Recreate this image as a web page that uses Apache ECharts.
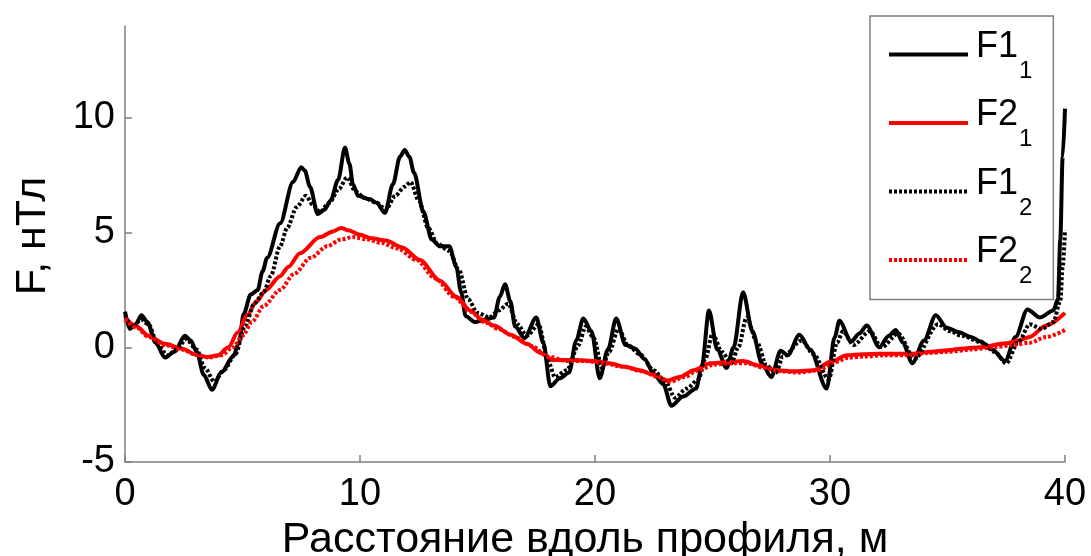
<!DOCTYPE html>
<html>
<head>
<meta charset="utf-8">
<script src="https://cdn.jsdelivr.net/npm/echarts@6/dist/echarts.min.js"></script>
<style>
html,body{margin:0;padding:0;background:#fff;}
#c{width:1091px;height:556px;}
</style>
</head>
<body>
<div id="c"></div>
<script>
// ---- data ----
const xTicks = [0, 10, 20, 30, 40];
const yTicks = [-5, 0, 5, 10];
const seriesNames = ['F1_1', 'F2_1', 'F1_2', 'F2_2'];
const legendMain = {F1_1: 'F1', F2_1: 'F2', F1_2: 'F1', F2_2: 'F2'};
const legendSub = {F1_1: '1', F2_1: '1', F1_2: '2', F2_2: '2'};

const F1_1 = [
[0,1.55],[0.2,0.8],[0.45,1.0],[0.7,1.4],[0.95,1.1],[1.3,0.2],[1.7,-0.45],[2.1,-0.2],[2.55,0.5],[2.8,0.3],
[3.05,-0.2],[3.35,-1.2],[3.7,-1.85],[4.1,-1.1],[4.6,-0.4],[4.85,0.2],[5.05,1.45],[5.35,2.3],[5.65,2.5],[5.85,3.3],
[6.05,3.9],[6.6,5.4],[7.15,7.2],[7.5,7.85],[7.65,7.7],[7.87,7.0],[8.2,5.8],[8.5,6.0],[8.75,6.4],[9.07,7.3],
[9.36,8.7],[9.55,8.0],[9.7,7.1],[9.92,6.6],[10.43,6.45],[10.7,6.3],[11.06,5.85],[11.4,7.1],[11.7,8.3],[11.9,8.6],
[12.1,8.3],[12.3,7.6],[12.7,5.9],[13.05,4.7],[13.4,4.4],[13.8,4.4],[14.1,3.5],[14.3,2.4],[14.5,1.35],[14.9,1.1],
[15.3,1.2],[15.7,1.3],[15.95,2.2],[16.17,2.75],[16.4,2.0],[16.6,0.9],[17.0,0.4],[17.5,1.3],[17.8,0.2],[18.1,-1.7],
[18.5,-1.35],[18.9,-1.1],[19.2,0.3],[19.5,1.25],[19.85,0.7],[20.2,-1.35],[20.55,-0.1],[20.9,1.25],[21.3,0.1],[21.7,-0.05],
[22.1,-0.5],[22.5,-1.15],[22.9,-1.6],[23.25,-2.55],[23.75,-2.15],[24.3,-1.8],[24.55,-0.8],[24.85,1.6],[25.2,-0.1],[25.6,-0.9],
[25.9,0.0],[26.3,2.4],[26.7,0.7],[27.1,-0.7],[27.5,-1.3],[27.9,-0.15],[28.2,-0.35],[28.7,0.55],[29.15,-0.1],[29.86,-1.8],
[30.2,0.45],[30.4,1.15],[30.9,0.25],[31.25,0.6],[31.56,0.95],[32.1,0.0],[32.5,0.5],[32.8,0.75],[33.1,0.2],[33.5,-0.7],
[34.0,0.3],[34.5,1.4],[34.97,0.85],[35.5,0.65],[36.0,0.45],[36.4,0.25],[36.9,-0.1],[37.45,-0.6],[37.9,0.45],[38.4,1.65],
[38.94,1.3],[39.5,1.6],[39.7,2.1],[39.8,4.7],[39.9,8.3],[40,10.4]
];

const F2_1 = [
[0,1.3],[0.5,0.9],[1.0,0.5],[1.7,0.15],[2.4,-0.05],[3.1,-0.35],[3.5,-0.42],[3.95,-0.35],[4.4,0.0],[4.8,0.65],
[5.2,1.4],[5.6,2.0],[6.0,2.5],[6.6,3.1],[6.95,3.5],[7.45,4.1],[8.3,4.8],[8.85,5.05],[9.2,5.2],[9.5,5.1],
[10.0,4.9],[10.5,4.75],[11.1,4.65],[11.8,4.35],[12.55,3.8],[13.4,2.9],[14.1,2.2],[14.7,1.6],[15.2,1.2],[15.7,0.95],
[16.4,0.55],[17.1,0.15],[17.7,-0.25],[18.2,-0.55],[19.2,-0.55],[20.0,-0.6],[20.6,-0.7],[21.3,-0.85],[21.9,-1.0],[22.5,-1.2],
[23.05,-1.45],[23.6,-1.3],[24.2,-1.0],[24.9,-0.7],[25.6,-0.65],[26.3,-0.6],[27.0,-0.8],[27.7,-1.0],[28.5,-1.05],[29.3,-1.0],
[30.1,-0.6],[30.7,-0.35],[31.4,-0.3],[32.1,-0.28],[33.5,-0.28],[34.3,-0.2],[35.0,-0.13],[35.7,-0.05],[36.4,0.0],[37.5,0.17],
[38.0,0.3],[38.5,0.45],[39.2,0.95],[40,1.5]
];

const F1_2 = [
[0,1.4],[0.3,0.9],[0.7,1.2],[1.0,1.0],[1.4,0.1],[1.8,-0.35],[2.2,-0.1],[2.6,0.35],[3.05,-0.1],[3.4,-0.9],
[3.8,-1.5],[4.2,-1.0],[4.7,-0.3],[5.1,0.9],[5.5,1.9],[5.9,2.4],[6.2,3.1],[6.6,4.4],[6.9,5.2],[7.3,6.1],
[7.7,6.6],[8.0,6.2],[8.3,5.9],[8.7,6.3],[9.1,6.9],[9.45,7.4],[9.8,6.8],[10.2,6.5],[10.7,6.3],[11.1,6.0],
[11.5,6.6],[11.9,7.0],[12.15,7.2],[12.5,6.4],[12.9,5.2],[13.3,4.5],[13.8,4.2],[14.2,3.4],[14.6,2.1],[15.0,1.5],
[15.5,1.3],[15.9,1.6],[16.3,1.9],[16.7,1.0],[17.1,0.5],[17.6,1.0],[18.0,-0.6],[18.3,-1.3],[18.8,-1.0],[19.3,0.1],
[19.6,0.9],[19.95,0.4],[20.3,-0.9],[20.6,-0.2],[21.0,0.8],[21.4,0.1],[21.9,-0.3],[22.5,-1.0],[23.0,-1.5],[23.4,-2.2],
[23.9,-1.8],[24.4,-1.4],[24.7,-0.5],[25.0,0.6],[25.4,-0.2],[25.8,-0.7],[26.1,0.0],[26.45,1.3],[26.9,0.2],[27.3,-0.8],
[27.7,-1.1],[28.0,-0.4],[28.8,0.3],[29.3,-0.3],[29.95,-1.4],[30.3,0.2],[30.55,0.7],[31.0,0.1],[31.7,0.7],[32.2,0.0],
[32.9,0.6],[33.6,-0.5],[34.6,1.0],[35.1,0.7],[35.6,0.5],[36.5,0.2],[37.0,-0.2],[37.5,-0.7],[38.0,0.2],[38.5,1.0],
[39.0,0.8],[39.5,1.1],[39.8,2.0],[39.9,3.5],[40,5.1]
];

const F2_2 = [
[0,1.2],[0.5,0.85],[1.0,0.45],[1.7,0.1],[2.4,-0.1],[3.1,-0.35],[3.6,-0.45],[4.1,-0.35],[4.6,0.0],[5.0,0.5],
[5.4,1.1],[5.9,1.8],[6.6,2.5],[7.2,3.2],[7.9,3.9],[8.6,4.4],[9.2,4.7],[9.7,4.8],[10.3,4.7],[10.9,4.55],
[11.6,4.3],[12.4,3.8],[13.2,3.0],[14.0,2.2],[14.7,1.55],[15.3,1.1],[15.9,0.8],[16.6,0.45],[17.3,0.05],[18.0,-0.4],
[18.8,-0.6],[19.6,-0.6],[20.4,-0.7],[21.2,-0.85],[22.0,-1.05],[22.7,-1.3],[23.2,-1.5],[23.8,-1.3],[24.4,-1.0],[25.1,-0.75],
[25.8,-0.7],[26.5,-0.7],[27.2,-0.9],[27.9,-1.05],[28.7,-1.1],[29.5,-1.0],[30.2,-0.65],[30.8,-0.45],[31.5,-0.4],[32.3,-0.35],
[33.2,-0.35],[34.2,-0.25],[35.0,-0.2],[36.0,-0.1],[37.0,0.0],[37.8,0.1],[38.5,0.2],[39.2,0.45],[40,0.75]
];

const xName = 'Расстояние вдоль профиля, м';
const yName = 'F, нТл';

// ---- chart ----
const FONT = '"Liberation Sans", Arial, sans-serif';
const AXIS_GREY = '#7f7f7f';
const chart = echarts.init(document.getElementById('c'), null, {renderer: 'canvas'});

function lineSeries(name, data, color, type, z) {
  return {
    name: name, type: 'line', data: data, showSymbol: false, symbol: 'none',
    smooth: 0.3, smoothMonotone: 'x', z: z, silent: true, animation: false,
    lineStyle: {color: color, width: 4, type: type},
    itemStyle: {color: color}
  };
}

chart.setOption({
  animation: false,
  backgroundColor: '#fff',
  grid: {left: 125, right: 26, top: 26, bottom: 94, containLabel: false, outerBoundsMode: 'none'},
  xAxis: {
    type: 'value', min: 0, max: 40, interval: 10,
    name: xName, nameLocation: 'middle', nameGap: 45,
    nameTextStyle: {fontFamily: FONT, fontSize: 43, color: '#000', padding: [0, 20, 0, 0]},
    axisLine: {show: true, onZero: false, lineStyle: {color: AXIS_GREY, width: 1.5}},
    axisTick: {show: true, inside: true, length: 7, lineStyle: {color: AXIS_GREY, width: 1.5}, customValues: xTicks},
    axisLabel: {fontFamily: FONT, fontSize: 38, color: '#000', margin: 14, customValues: xTicks},
    splitLine: {show: false}
  },
  yAxis: {
    type: 'value', min: -5, max: 14, interval: 5,
    name: yName, nameLocation: 'middle', nameRotate: 90, nameGap: 70,
    nameTextStyle: {fontFamily: FONT, fontSize: 43, color: '#000', padding: [0, 0, 0, 16]},
    axisLine: {show: true, onZero: false, lineStyle: {color: AXIS_GREY, width: 1.5}},
    axisTick: {show: true, inside: true, length: 7, lineStyle: {color: AXIS_GREY, width: 1.5}, customValues: yTicks},
    axisLabel: {fontFamily: FONT, fontSize: 38, color: '#000', margin: 10, customValues: yTicks},
    splitLine: {show: false}
  },
  legend: {
    orient: 'vertical', left: 870, top: 16,
    padding: [10, 21, 11, 17],
    itemWidth: 79, itemHeight: 14, itemGap: 11.5,
    backgroundColor: '#fff', borderColor: AXIS_GREY, borderWidth: 1.5, borderRadius: 0,
    selectedMode: false,
    itemStyle: {opacity: 0},
    lineStyle: {width: 4},
    data: seriesNames,
    formatter: function (name) { return '{m|' + legendMain[name] + '}{s|' + legendSub[name] + '}'; },
    textStyle: {
      color: '#000', fontFamily: FONT,
      rich: {
        m: {fontSize: 36, lineHeight: 57, verticalAlign: 'top', padding: [3, 0, 0, 3], fontFamily: FONT, color: '#000'},
        s: {fontSize: 24, lineHeight: 24, verticalAlign: 'bottom', padding: [0, 0, 0, 1], fontFamily: FONT, color: '#000'}
      }
    }
  },
  series: [
    lineSeries('F1_1', F1_1, '#000000', 'solid', 2),
    lineSeries('F2_1', F2_1, '#ff0000', 'solid', 3),
    lineSeries('F1_2', F1_2, '#000000', [3, 2], 4),
    lineSeries('F2_2', F2_2, '#ff0000', [3, 2], 5)
  ]
});
</script>
</body>
</html>
